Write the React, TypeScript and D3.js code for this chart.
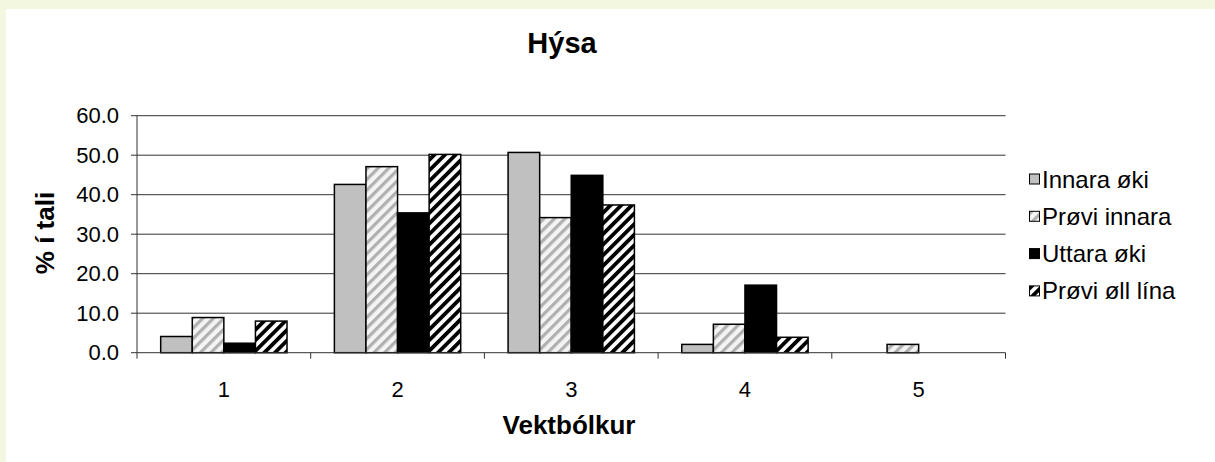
import React from "react";
import * as d3 from "d3";

const categories = ["1", "2", "3", "4", "5"];
const seriesNames = ["Innara øki", "Prøvi innara", "Uttara øki", "Prøvi øll lína"];
const innaraOki = [4.1, 42.6, 50.7, 2.1, 0];
const proviInnara = [8.9, 47.1, 34.2, 7.2, 2.1];
const uttaraOki = [2.4, 35.4, 44.9, 17.1, 0];
const proviOllLina = [8.0, 50.2, 37.4, 3.9, 0];
const yTicks = [0, 10, 20, 30, 40, 50, 60];

const seriesValues = [innaraOki, proviInnara, uttaraOki, proviOllLina];
const fills = ["#C0C0C0", "url(#pLight)", "#000000", "url(#pDark)"];

const W = 1215;
const H = 462;
const FONT = "'Liberation Sans', Arial, sans-serif";

export default function App() {
  const x0 = d3.scaleBand<string>().domain(categories).range([137, 1005.5]).padding(0);
  const x1 = d3
    .scaleBand<string>()
    .domain(seriesNames)
    .range([0, x0.bandwidth()])
    .paddingInner(0)
    .paddingOuter(0.75);
  const y = d3.scaleLinear().domain([0, 60]).range([352.7, 115.7]);
  const [xL, xR] = x0.range();
  const boundaries = categories.map((c) => x0(c)!).concat([xR]);

  return (
    <div style={{ position: "absolute", left: 0, top: 0, width: W, height: H }}>
      <svg width={W} height={H} style={{ display: "block" }}>
        <defs>
          <pattern id="pDark" patternUnits="userSpaceOnUse" width={7.5} height={7.5} patternTransform="rotate(45)">
            <rect width={7.5} height={7.5} fill="#ffffff" />
            <rect width={3.8} height={7.5} fill="#000000" />
          </pattern>
          <pattern id="pLight" patternUnits="userSpaceOnUse" width={7.5} height={7.5} patternTransform="rotate(45)">
            <rect width={7.5} height={7.5} fill="#f4f4f4" />
            <rect width={3.2} height={7.5} fill="#b0b0b0" />
          </pattern>
        </defs>
        <rect x={0} y={0} width={W} height={H} fill="#F4F7DF" />
        <rect x={6} y={9} width={W - 6} height={H - 9} fill="#ffffff" />

        <text x={562} y={53} textAnchor="middle" fontFamily={FONT} fontWeight="bold" fontSize={29} fill="#000">
          Hýsa
        </text>

        {/* gridlines */}
        {yTicks.slice(1).map((t) => (
          <line key={"g" + t} x1={xL} x2={xR} y1={y(t)} y2={y(t)} stroke="#333" strokeWidth={1} />
        ))}

        {/* bars */}
        {categories.map((c, ci) => (
          <g key={c} transform={`translate(${x0(c)},0)`}>
            {seriesNames.map((s, si) => {
              const v = seriesValues[si][ci];
              if (!v) return null;
              return (
                <rect
                  key={s}
                  x={x1(s)}
                  y={y(v)}
                  width={x1.bandwidth()}
                  height={y(0) - y(v)}
                  fill={fills[si]}
                  stroke="#000"
                  strokeWidth={1.5}
                />
              );
            })}
          </g>
        ))}

        {/* y axis */}
        <line x1={xL} x2={xL} y1={y(60)} y2={y(0)} stroke="#333" strokeWidth={1} />
        {yTicks.map((t) => (
          <g key={"y" + t}>
            <line x1={xL - 6} x2={xL} y1={y(t)} y2={y(t)} stroke="#333" strokeWidth={1} />
            <text x={119} y={y(t) + 7.5} textAnchor="end" fontFamily={FONT} fontSize={22} fill="#000">
              {t.toFixed(1)}
            </text>
          </g>
        ))}

        {/* x axis */}
        <line x1={xL} x2={xR} y1={y(0)} y2={y(0)} stroke="#333" strokeWidth={1} />
        {boundaries.map((b, i) => (
          <line key={"xt" + i} x1={b} x2={b} y1={y(0)} y2={y(0) + 6} stroke="#333" strokeWidth={1} />
        ))}
        {categories.map((c) => (
          <text
            key={"xl" + c}
            x={x0(c)! + x0.bandwidth() / 2}
            y={397}
            textAnchor="middle"
            fontFamily={FONT}
            fontSize={22}
            fill="#000"
          >
            {c}
          </text>
        ))}

        <text x={569} y={434} textAnchor="middle" fontFamily={FONT} fontWeight="bold" fontSize={26} fill="#000">
          Vektbólkur
        </text>
        <text
          transform={`translate(54,233) rotate(-90)`}
          textAnchor="middle"
          fontFamily={FONT}
          fontWeight="bold"
          fontSize={26}
          fill="#000"
        >
          % í tali
        </text>

        {/* legend */}
        {seriesNames.map((s, i) => {
          const cy = 179 + i * 37.3;
          return (
            <g key={"lg" + s}>
              <rect x={1029.5} y={cy - 5} width={10} height={10} fill={fills[i]} stroke="#000" strokeWidth={1} />
              <text x={1042} y={cy + 8.5} fontFamily={FONT} fontSize={24} fill="#000">
                {s}
              </text>
            </g>
          );
        })}
      </svg>
    </div>
  );
}
